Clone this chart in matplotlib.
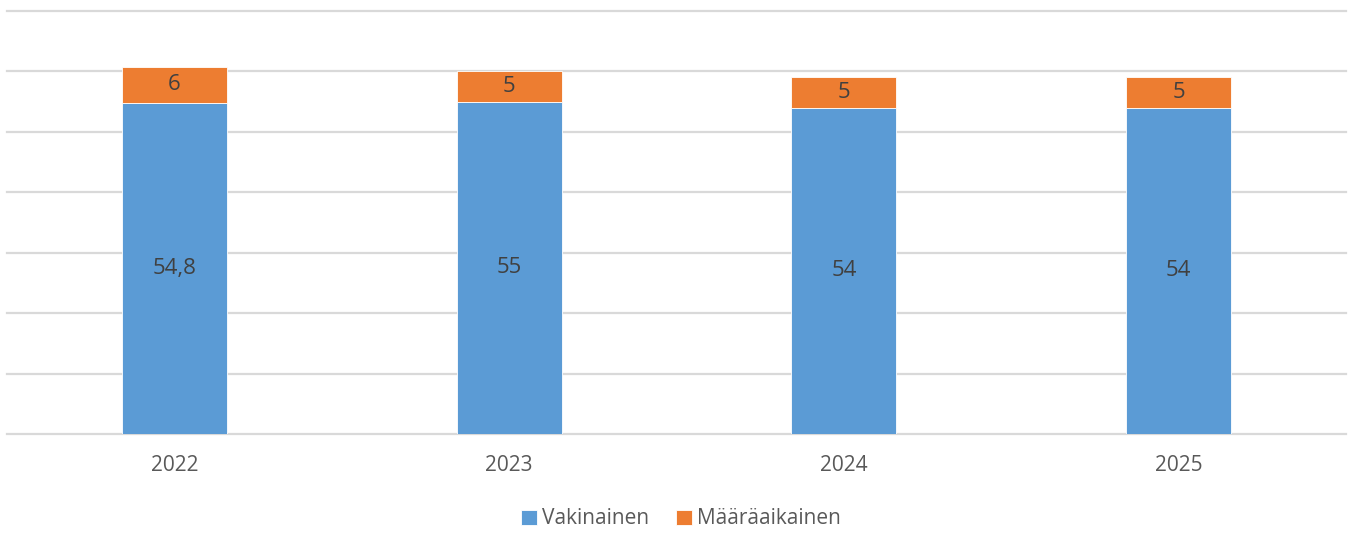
import matplotlib
matplotlib.use('Agg')
import matplotlib.pyplot as plt

years = ['2022', '2023', '2024', '2025']
vakinainen = [54.8, 55, 54, 54]
maaraaikainen = [6, 5, 5, 5]
vak_labels = ['54,8', '55', '54', '54']
maar_labels = ['6', '5', '5', '5']

blue = '#5b9bd5'
orange = '#ed7d31'
label_col = '#404040'
text_col = '#595959'

plt.rcParams['font.family'] = ['Open Sans', 'DejaVu Sans']

fig = plt.figure(figsize=(13.53, 5.34), dpi=100)
ax = fig.add_axes([7 / 1353, 100 / 534, 1339 / 1353, 423 / 534])

x = list(range(len(years)))
w = 0.313
b1 = ax.bar(x, vakinainen, width=w, color=blue, edgecolor='white', linewidth=0.6,
            label='Vakinainen', zorder=3)
b2 = ax.bar(x, maaraaikainen, width=w, bottom=vakinainen, color=orange,
            edgecolor='white', linewidth=0.6, label='Määräaikainen', zorder=3)

ax.bar_label(b1, labels=vak_labels, label_type='center', fontsize=16, color=label_col)
ax.bar_label(b2, labels=maar_labels, label_type='center', fontsize=16, color=label_col)

ax.set_xlim(-0.5, 3.5)
ax.set_ylim(0, 70)
ax.set_yticks(range(0, 71, 10))
ax.set_yticklabels([])
ax.tick_params(axis='y', length=0)
ax.grid(axis='y', color='#d9d9d9', linewidth=1.6, zorder=0)
for gl in ax.get_ygridlines():
    gl.set_clip_on(False)
ax.set_axisbelow(True)
for s in ax.spines.values():
    s.set_visible(False)

ax.set_xticks(x)
ax.set_xticklabels(years, fontsize=15, color=text_col)
ax.tick_params(axis='x', length=0, pad=15)

fig.legend(loc='center', bbox_to_anchor=(681 / 1353, 1 - 519 / 534), ncol=2,
           frameon=False, fontsize=15, labelcolor=text_col, handlelength=0.75,
           handleheight=0.75, handletextpad=0.25, columnspacing=1.3)

fig.savefig('out.png', dpi=100)
